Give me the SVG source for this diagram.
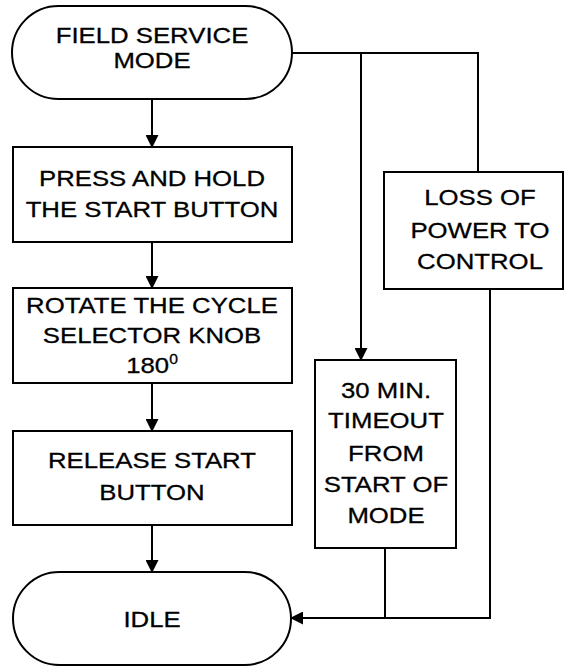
<svg xmlns="http://www.w3.org/2000/svg" width="565" height="666" viewBox="0 0 565 666">
<style>
.shape{fill:#fff;stroke:#000;stroke-width:2}
.line{fill:none;stroke:#000;stroke-width:2}
text{font-family:"Liberation Sans",Arial,sans-serif;font-size:23px;fill:#000;stroke:#000;stroke-width:0.3;text-anchor:middle}
</style>
<defs>
<marker id="arr" markerWidth="13" markerHeight="13" refX="12" refY="6.5" orient="auto" markerUnits="userSpaceOnUse">
<path d="M0,0 L13,6.5 L0,13 Z" fill="#000"/>
</marker>
</defs>
<rect width="565" height="666" fill="#fff"/>
<g id="connectors">
<line class="line" x1="152" y1="99" x2="152" y2="147" marker-end="url(#arr)"/>
<line class="line" x1="152" y1="242" x2="152" y2="288" marker-end="url(#arr)"/>
<line class="line" x1="152" y1="383" x2="152" y2="431" marker-end="url(#arr)"/>
<line class="line" x1="152" y1="525" x2="152" y2="572" marker-end="url(#arr)"/>
<polyline class="line" points="292,53 478,53 478,172"/>
<line class="line" x1="361" y1="53" x2="361" y2="360" marker-end="url(#arr)"/>
<polyline class="line" points="490,289 490,618 291,618" marker-end="url(#arr)"/>
<line class="line" x1="385" y1="548" x2="385" y2="618"/>
</g>
<g id="field-service-mode">
<rect class="shape" x="12" y="6" width="280" height="93" rx="46.5" ry="46.5"/>
<text transform="translate(152,43) scale(1.12,1)">FIELD SERVICE</text>
<text transform="translate(152,68) scale(1.12,1)">MODE</text>
</g>
<g id="press-hold">
<rect class="shape" x="13" y="147" width="279" height="95"/>
<text transform="translate(152,186) scale(1.12,1)">PRESS AND HOLD</text>
<text transform="translate(152,217) scale(1.12,1)">THE START BUTTON</text>
</g>
<g id="rotate">
<rect class="shape" x="13" y="288" width="279" height="95"/>
<text transform="translate(152,313) scale(1.12,1)">ROTATE THE CYCLE</text>
<text transform="translate(152,343) scale(1.12,1)">SELECTOR KNOB</text>
<text transform="translate(152,373) scale(1.12,1)">180<tspan font-size="14" dy="-9">0</tspan></text>
</g>
<g id="release">
<rect class="shape" x="13" y="431" width="279" height="94"/>
<text transform="translate(152,468) scale(1.12,1)">RELEASE START</text>
<text transform="translate(152,500) scale(1.12,1)">BUTTON</text>
</g>
<g id="idle">
<rect class="shape" x="13" y="572" width="278" height="93" rx="46.5" ry="46.5"/>
<text transform="translate(152,627) scale(1.12,1)">IDLE</text>
</g>
<g id="loss-of-power">
<rect class="shape" x="384" y="172" width="179" height="117"/>
<text transform="translate(480,205) scale(1.12,1)">LOSS OF</text>
<text transform="translate(480,238) scale(1.12,1)">POWER TO</text>
<text transform="translate(480,269) scale(1.12,1)">CONTROL</text>
</g>
<g id="timeout">
<rect class="shape" x="315" y="360" width="141" height="188"/>
<text transform="translate(386,398) scale(1.12,1)">30 MIN.</text>
<text transform="translate(386,428) scale(1.12,1)">TIMEOUT</text>
<text transform="translate(386,461) scale(1.12,1)">FROM</text>
<text transform="translate(386,492) scale(1.12,1)">START OF</text>
<text transform="translate(386,523) scale(1.12,1)">MODE</text>
</g>
</svg>
